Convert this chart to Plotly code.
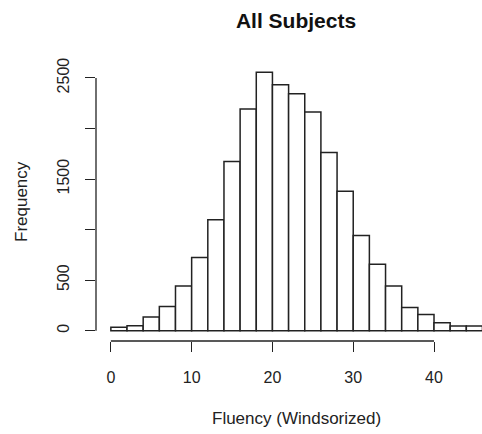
import plotly.graph_objects as go

# Histogram of windsorized fluency scores, bins of width 2
bin_start = 0
bin_width = 2
counts = [35, 48, 136, 238, 443, 724, 1098, 1673, 2192, 2556, 2434, 2345,
          2163, 1763, 1379, 942, 658, 443, 228, 159, 79, 46, 46]

x_ticks = [0, 10, 20, 30, 40]
y_ticks = [0, 500, 1000, 1500, 2000, 2500]
y_tick_text = ["0", "500", "", "1500", "", "2500"]

centers = [bin_start + bin_width * (i + 0.5) for i in range(len(counts))]
x_hi = bin_start + bin_width * len(counts)
y_max = max(counts)

W, H = 482, 434
ML, MR, MT, MB = 96, 0, 62, 93
plot_w = W - ML - MR
plot_h = H - MT - MB


def px_to_paper(px, py):
    return (px - ML) / plot_w, (H - MB - py) / plot_h


font = "Liberation Sans, Arial, sans-serif"
line_col = "#222222"

fig = go.Figure(go.Bar(
    x=centers, y=counts, width=bin_width,
    marker=dict(color="white", line=dict(color=line_col, width=1.5)),
    hoverinfo="x+y",
))

xt_x, xt_y = px_to_paper(296, 418)
yt_x, yt_y = px_to_paper(21, 202)

fig.update_layout(
    width=W, height=H,
    margin=dict(l=ML, r=MR, t=MT, b=MB),
    paper_bgcolor="white", plot_bgcolor="white",
    showlegend=False,
    font=dict(family=font, size=16, color="#222222"),
    title=dict(text="<b>All Subjects</b>", font=dict(size=21, color="#111111"),
               x=296 / W, xref="container", xanchor="center",
               y=1 - 21 / H, yref="container", yanchor="middle"),
    xaxis=dict(range=[-0.04 * x_hi, 45.94], tickvals=x_ticks,
               ticks="outside", ticklen=10, tickwidth=1.3, tickcolor=line_col,
               showline=False, showgrid=False, zeroline=False,
               ticklabelstandoff=12),
    yaxis=dict(range=[-0.04 * y_max, 1.04 * y_max], tickvals=y_ticks,
               ticktext=y_tick_text, tickangle=-90,
               ticks="outside", ticklen=10, tickwidth=1.3, tickcolor=line_col,
               showline=False, showgrid=False, zeroline=False,
               ticklabelstandoff=10),
    shapes=[
        dict(type="line", xref="x", yref="paper", x0=x_ticks[0], x1=x_ticks[-1],
             y0=0, y1=0, line=dict(color=line_col, width=1.3)),
        dict(type="line", xref="paper", yref="y", x0=0, x1=0,
             y0=y_ticks[0], y1=y_ticks[-1], line=dict(color=line_col, width=1.3)),
    ],
    annotations=[
        dict(text="Fluency (Windsorized)", xref="paper", yref="paper",
             x=xt_x, y=xt_y, xanchor="center", yanchor="middle",
             showarrow=False, font=dict(size=17)),
        dict(text="Frequency", xref="paper", yref="paper",
             x=yt_x, y=yt_y, xanchor="center", yanchor="middle",
             textangle=-90, showarrow=False, font=dict(size=17)),
    ],
)

fig.write_html("out.html")
